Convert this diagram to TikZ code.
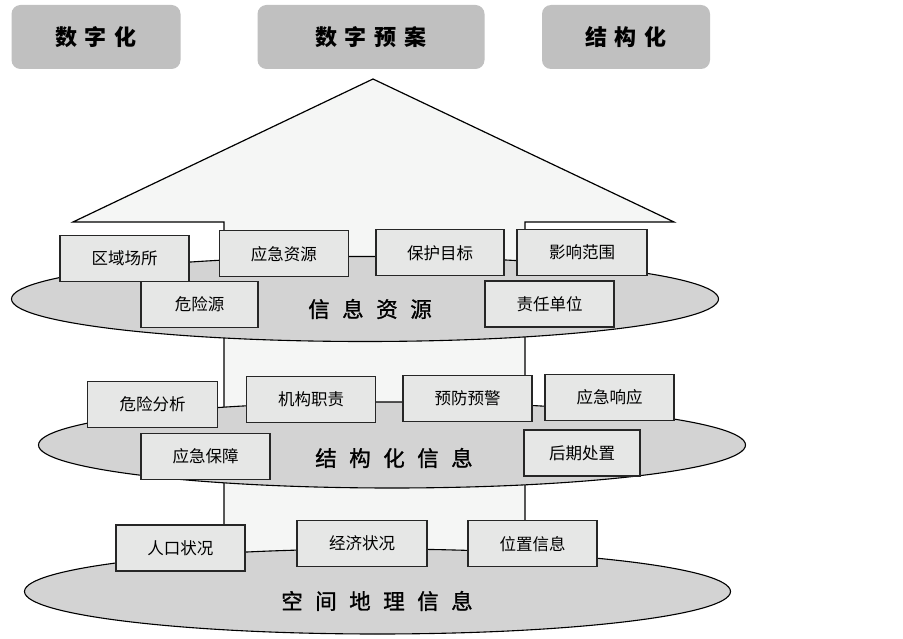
\documentclass[tikz,border=0pt]{standalone}
\usepackage{fontspec}
\newfontfamily\cjk{Noto Sans CJK SC}
\newfontfamily\cjkm[FakeBold=1.2]{Noto Sans CJK SC}
\usetikzlibrary{shapes.geometric}
\definecolor{topgray}{HTML}{C0C0C0}
\definecolor{boxgray}{HTML}{E6E7E6}
\definecolor{ellgray}{HTML}{D3D3D3}
\definecolor{arrowfill}{HTML}{F5F6F5}
\tikzset{
  topbox/.style={rectangle, rounded corners=9pt, fill=topgray, draw=none,
    minimum height=64pt, inner sep=0pt,
    font=\cjk\bfseries\fontsize{22}{26}\selectfont},
  infobox/.style={rectangle, draw=black!85, line width=1.4pt, fill=boxgray,
    minimum width=129pt, minimum height=46pt, inner sep=0pt,
    font=\cjk\fontsize{16.5}{19}\selectfont},
  layer/.style={ellipse, draw=black, line width=1.1pt, fill=ellgray,
    minimum width=707pt, minimum height=85pt, inner sep=0pt},
  layerlabel/.style={inner sep=0pt, font=\cjkm\fontsize{21.5}{24}\selectfont},
  bigarrow/.style={draw=black, line width=1.2pt, fill=arrowfill, line join=miter}
}
\newcommand{\gp}{\hspace{12.5pt}}
\newcommand{\tg}{\hspace{8pt}}
\begin{document}
\begin{tikzpicture}[x=1pt,y=-1pt]
\useasboundingbox (0,0) rectangle (903,639);
\fill[white] (0,0) rectangle (903,639);

% top labels
\node[topbox, minimum width=169pt] (t1) at (96,37) {数\tg 字\tg 化};
\node[topbox, minimum width=227pt] (t2) at (371,37) {数\tg 字\tg 预\tg 案};
\node[topbox, minimum width=168pt] (t3) at (626,37) {结\tg 构\tg 化};

% big arrow
\draw[bigarrow] (373,79) -- (674,222) -- (525,222) -- (525,565) -- (224,565) -- (224,222) -- (73,222) -- cycle;

% layers
\node[layer] (e1) at (365,299) {};
\node[layer, minimum height=86pt] (e2) at (392,445) {};
\node[layer, minimum width=706pt] (e3) at (377.5,591.5) {};

\node[layerlabel] (l1) at (370,309) {信\gp 息\gp 资\gp 源};
\node[layerlabel] (l2) at (394,458) {结\gp 构\gp 化\gp 信\gp 息};
\node[layerlabel] (l3) at (377,601) {空\gp 间\gp 地\gp 理\gp 信\gp 息};

% layer 1 boxes
\node[infobox] (b11) at (124.5,258.7) {区域场所};
\node[infobox] (b12) at (283.8,253.8) {应急资源};
\node[infobox, minimum width=128pt] (b13) at (440,252.8) {保护目标};
\node[infobox, minimum width=130pt] (b14) at (582,252.5) {影响范围};
\node[infobox, minimum width=117pt] (b15) at (199.5,304.3) {危险源};
\node[infobox] (b16) at (549.5,304) {责任单位};

% layer 2 boxes
\node[infobox, minimum width=130pt] (b21) at (152.5,404.3) {危险分析};
\node[infobox] (b22) at (311,399.3) {机构职责};
\node[infobox] (b23) at (467.5,398.3) {预防预警};
\node[infobox] (b24) at (609.5,397.7) {应急响应};
\node[infobox] (b25) at (205.5,456.7) {应急保障};
\node[infobox, minimum width=116pt] (b26) at (582,453) {后期处置};

% layer 3 boxes
\node[infobox] (b31) at (180.4,548) {人口状况};
\node[infobox, minimum width=130pt] (b32) at (362,543.7) {经济状况};
\node[infobox] (b33) at (532.5,543.7) {位置信息};
\end{tikzpicture}
\end{document}
